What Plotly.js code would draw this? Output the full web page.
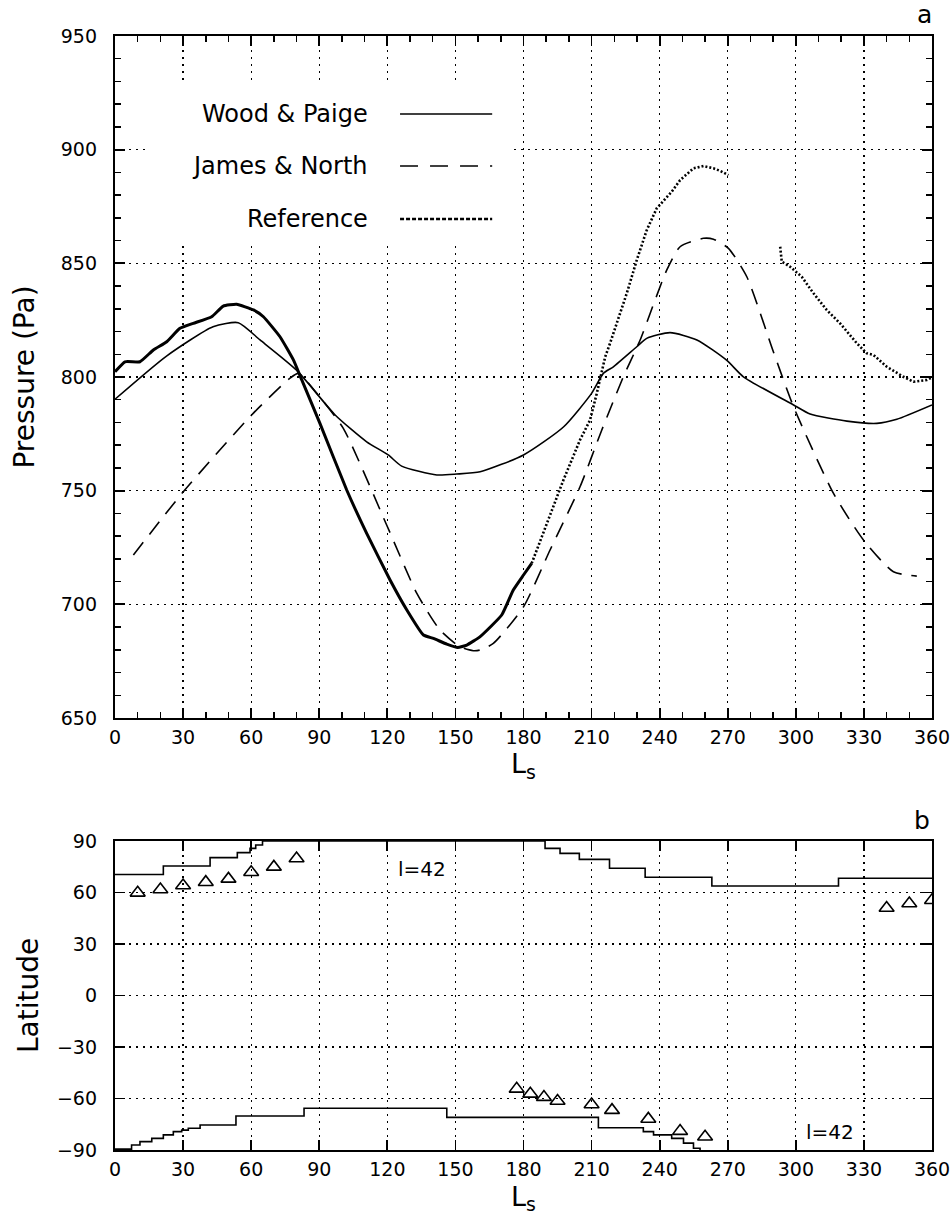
<!DOCTYPE html>
<html>
<head>
<meta charset="utf-8">
<script src="https://cdn.plot.ly/plotly-3.0.1.min.js"></script>
<style>html,body{margin:0;padding:0;background:#fff;}#chart{width:952px;height:1229px;}</style>
</head>
<body>
<div id="chart"></div>
<script>
// ---------- Panel a: surface pressure vs Ls ----------
const woodPaigeLs = [0, 22.7, 43.2, 54.3, 63.9, 80, 97, 110.9, 120.4, 126.3, 141.8, 150.6, 160.9, 180, 197.6, 210, 215.2, 219.6, 229.9, 234.3, 244.6, 256.4, 269.6, 276.9, 299, 306.3, 322.5, 335.7, 344.5, 360];
const woodPaigeP  = [790.2, 809.2, 822.1, 823.9, 816.3, 803, 783.3, 771.5, 765.7, 760.8, 756.9, 757.3, 758.3, 765.7, 778, 792.8, 801.6, 804.5, 813.3, 817, 819.5, 816.3, 807.3, 800.1, 787.7, 783.7, 780.6, 779.6, 781.4, 787.7];

const jamesNorthLs = [8.1, 30.1, 60.2, 77, 80.8, 88.9, 100.6, 119.7, 133, 143.2, 152, 157.9, 160.9, 166.7, 180, 191.7, 204.9, 214.5, 224, 231.4, 243.1, 249, 259.3, 263.7, 270.3, 278.4, 290.1, 299, 316.6, 329.8, 343, 353.3];
const jamesNorthP  = [721.7, 749.5, 783.3, 799.4, 801.6, 792.8, 777.4, 734.9, 704.8, 688.7, 681.3, 679.6, 679.9, 682.8, 698.9, 723.9, 751.7, 776.7, 800.1, 816.3, 847, 857.3, 861, 860.6, 856.6, 844.1, 811.1, 786.9, 748.8, 728.3, 714.3, 712.4];

const referenceLs = [0, 4.4, 11, 16.9, 22.8, 28.6, 34.5, 42.6, 47.7, 53.6, 61, 65.4, 72.7, 78.6, 82.3, 90.3, 102.1, 110.9, 121.2, 128.6, 135.9, 140.3, 146.2, 151, 155, 160.9, 170.4, 175.5, 180, 183.6,
  190.3, 197.6, 204.9, 209.3, 212.3, 216, 218.2, 221.1, 225.5, 229.9, 234.3, 238.7, 243.1, 245.3, 249, 254.9, 259.3, 263.7, 266.6, 270.3, 281,
  293.1, 293.8, 297.5, 302.6, 307.8, 313.6, 319.5, 326.9, 331.3, 334.2, 340.1, 347.4, 351.8, 357.7, 360];
const referenceP  = [802.3, 806.7, 806.7, 811.9, 815.5, 821.4, 823.6, 826.5, 831.2, 832, 829.5, 826.5, 817.7, 807.5, 798.7, 779.6, 750.3, 731.2, 710.7, 697.5, 686.5, 685, 682.5, 681, 682.1, 685.8, 695.3, 706.3, 712.9, 718,
  735.6, 754.7, 772.3, 781, 792.8, 808.9, 815, 823.6, 836.8, 851.4, 864.6, 874.2, 879.3, 881.5, 886.6, 891.8, 892.8, 891.8, 890.7, 888.8, null,
  857.3, 850.7, 848.5, 844.1, 836.8, 829.5, 823.6, 814.8, 810.4, 809.7, 804.5, 800.1, 797.9, 798.7, 799.8];
const referenceSolidUntil = 183.6; // dense (solid-looking) part of the record

// ---------- Panel b: latitude of cap edges vs Ls ----------
const northEdgeLs  = [0, 21.3, 41.9, 53.9, 59.5, 62, 65, 189.5, 196.1, 204.6, 217.9, 233.6, 263, 318.8, 360];
const northEdgeLat = [70.5, 75.4, 80.3, 83.2, 85.7, 87.7, 90, 85.7, 82.8, 79.3, 74.1, 68.9, 63.8, 68.3, 68.3];
const southEdgeLs  = [0, 7.3, 11, 16.2, 21.3, 25.7, 29.4, 32.3, 37.5, 53.3, 83.3, 146.2, 213, 232.8, 237.3, 245.3, 250.5, 254.9, 257.8];
const southEdgeLat = [-89.5, -87.1, -85.1, -83.2, -81.2, -79.3, -78.4, -77.3, -75.4, -70.2, -65.7, -71, -77, -79.3, -81.2, -83.2, -86, -89, -90];
const capObsLs  = [10, 20, 30, 40, 50, 60, 70, 80, 177, 183, 189, 195, 210, 219, 235, 249, 260, 340, 350, 360];
const capObsLat = [59.8, 61.7, 64.1, 66, 67.9, 71.8, 74.9, 79.8, -54.4, -57.3, -59.2, -61.5, -63.5, -66.8, -71.9, -79, -82.3, 51, 53.6, 55.5];

const lsRange = [0, 360];
const pRange = [650, 950];
const latRange = [-90, 90];
const legendNames = ['Wood & Paige', 'James & North', 'Reference'];
const capLabel = 'l=42';

const FONT = 'DejaVu Sans, Liberation Sans, sans-serif';

const solidLs = [], solidP = [], dotLs = [], dotP = [];
referenceLs.forEach((l, i) => {
  if (l <= referenceSolidUntil) { solidLs.push(l); solidP.push(referenceP[i]); }
  if (l >= referenceSolidUntil) { dotLs.push(l); dotP.push(referenceP[i]); }
});

const traces = [
  {x: woodPaigeLs, y: woodPaigeP, xaxis: 'x', yaxis: 'y', mode: 'lines', name: legendNames[0],
   line: {color: '#000', width: 1.6, shape: 'spline', smoothing: 0.6}},
  {x: jamesNorthLs, y: jamesNorthP, xaxis: 'x', yaxis: 'y', mode: 'lines', name: legendNames[1],
   line: {color: '#000', width: 1.6, dash: '16px,10px', shape: 'spline', smoothing: 0.6}},
  {x: solidLs, y: solidP, xaxis: 'x', yaxis: 'y', mode: 'lines', name: legendNames[2],
   line: {color: '#000', width: 3, shape: 'spline', smoothing: 0.4}},
  {x: dotLs, y: dotP, xaxis: 'x', yaxis: 'y', mode: 'lines', name: legendNames[2], connectgaps: false,
   line: {color: '#000', width: 2.6, dash: '2px,2px'}},
  {x: northEdgeLs, y: northEdgeLat, xaxis: 'x2', yaxis: 'y2', mode: 'lines',
   line: {color: '#000', width: 1.6, shape: 'hv'}},
  {x: southEdgeLs, y: southEdgeLat, xaxis: 'x2', yaxis: 'y2', mode: 'lines',
   line: {color: '#000', width: 1.6, shape: 'hv'}},
  {x: capObsLs, y: capObsLat, xaxis: 'x2', yaxis: 'y2', mode: 'markers',
   marker: {symbol: 'triangle-up-open', size: 13, color: '#000', line: {width: 1.6, color: '#000'}}}
];

function axisBase(extra) {
  return Object.assign({
    showgrid: true, gridcolor: '#000', griddash: '2px,5px', gridwidth: 1.3,
    showline: true, linecolor: '#000', linewidth: 2.2, mirror: 'ticks',
    ticks: 'inside', ticklen: 10, tickwidth: 1.8, tickcolor: '#000', zeroline: false,
    tickmode: 'linear',
    tickfont: {family: FONT, size: 19, color: '#000'}
  }, extra);
}
function minorTicks(t0) {
  return {tick0: t0, dtick: 10, ticks: 'inside', ticklen: 6, tickwidth: 1.5, tickcolor: '#000', showgrid: false};
}
function xAxis(anchor, title, standoff, withMinor) {
  const a = axisBase({
    anchor: anchor, domain: [0, 1], range: lsRange, tick0: 0, dtick: 30, ticklabelstandoff: 1,
    title: {text: title, font: {family: FONT, size: 27, color: '#000'}, standoff: standoff}
  });
  if (withMinor) a.minor = minorTicks(0);
  return a;
}
function yAxis(anchor, domain, range, dt, title, standoff, withMinor) {
  const a = axisBase({
    anchor: anchor, domain: domain, range: range, tick0: range[0], dtick: dt, ticklabelstandoff: 12,
    title: {text: title, font: {family: FONT, size: 28, color: '#000'}, standoff: standoff}
  });
  if (withMinor) a.minor = minorTicks(range[0]);
  return a;
}

const legY = [915.7, 892.8, 869.5];
const legTextX = 112.4, legLineX0 = 125.6, legLineX1 = 166.2;

const layout = {
  width: 952, height: 1229,
  margin: {l: 115, r: 20, t: 36, b: 79},
  paper_bgcolor: '#fff', plot_bgcolor: '#fff',
  showlegend: false,
  font: {family: FONT, color: '#000'},
  xaxis: xAxis('y', 'L<sub>s</sub>', 4, true),
  yaxis: yAxis('x', [0.3878, 1], pRange, 50, 'Pressure (Pa)', 18, true),
  xaxis2: xAxis('y2', 'L<sub>s</sub>', 8, false),
  yaxis2: yAxis('x2', [0, 0.2774], latRange, 30, 'Latitude', 10, false),
  shapes: [
    {type: 'rect', xref: 'x', yref: 'y', x0: 14.5, x1: 175, y0: 859, y1: 930.6, fillcolor: '#fff', line: {width: 0}, layer: 'above'},
    {type: 'line', xref: 'x', yref: 'y', x0: legLineX0, x1: legLineX1, y0: legY[0], y1: legY[0], line: {color: '#000', width: 1.6}},
    {type: 'line', xref: 'x', yref: 'y', x0: legLineX0, x1: legLineX1, y0: legY[1], y1: legY[1], line: {color: '#000', width: 1.6, dash: '18px,12px'}},
    {type: 'line', xref: 'x', yref: 'y', x0: legLineX0, x1: legLineX1, y0: legY[2], y1: legY[2], line: {color: '#000', width: 2.6, dash: '4px,2px'}}
  ],
  annotations: [
    {xref: 'x', yref: 'y', x: legTextX, y: legY[0], text: legendNames[0], showarrow: false, xanchor: 'right', yanchor: 'middle', font: {family: FONT, size: 24, color: '#000'}},
    {xref: 'x', yref: 'y', x: legTextX, y: legY[1], text: legendNames[1], showarrow: false, xanchor: 'right', yanchor: 'middle', font: {family: FONT, size: 24, color: '#000'}},
    {xref: 'x', yref: 'y', x: legTextX, y: legY[2], text: legendNames[2], showarrow: false, xanchor: 'right', yanchor: 'middle', font: {family: FONT, size: 24, color: '#000'}},
    {xref: 'x2', yref: 'y2', x: 135.3, y: 73.7, text: capLabel, showarrow: false, xanchor: 'center', yanchor: 'middle', font: {family: FONT, size: 20, color: '#000'}},
    {xref: 'x2', yref: 'y2', x: 315, y: -79.5, text: capLabel, showarrow: false, xanchor: 'center', yanchor: 'middle', font: {family: FONT, size: 20, color: '#000'}},
    {xref: 'paper', yref: 'paper', x: 0.991, y: 1.0197, text: 'a', showarrow: false, xanchor: 'center', yanchor: 'middle', font: {family: FONT, size: 25, color: '#000'}},
    {xref: 'paper', yref: 'paper', x: 0.988, y: 0.2962, text: 'b', showarrow: false, xanchor: 'center', yanchor: 'middle', font: {family: FONT, size: 25, color: '#000'}}
  ]
};

Plotly.newPlot('chart', traces, layout, {staticPlot: true, displayModeBar: false});
</script>
</body>
</html>
